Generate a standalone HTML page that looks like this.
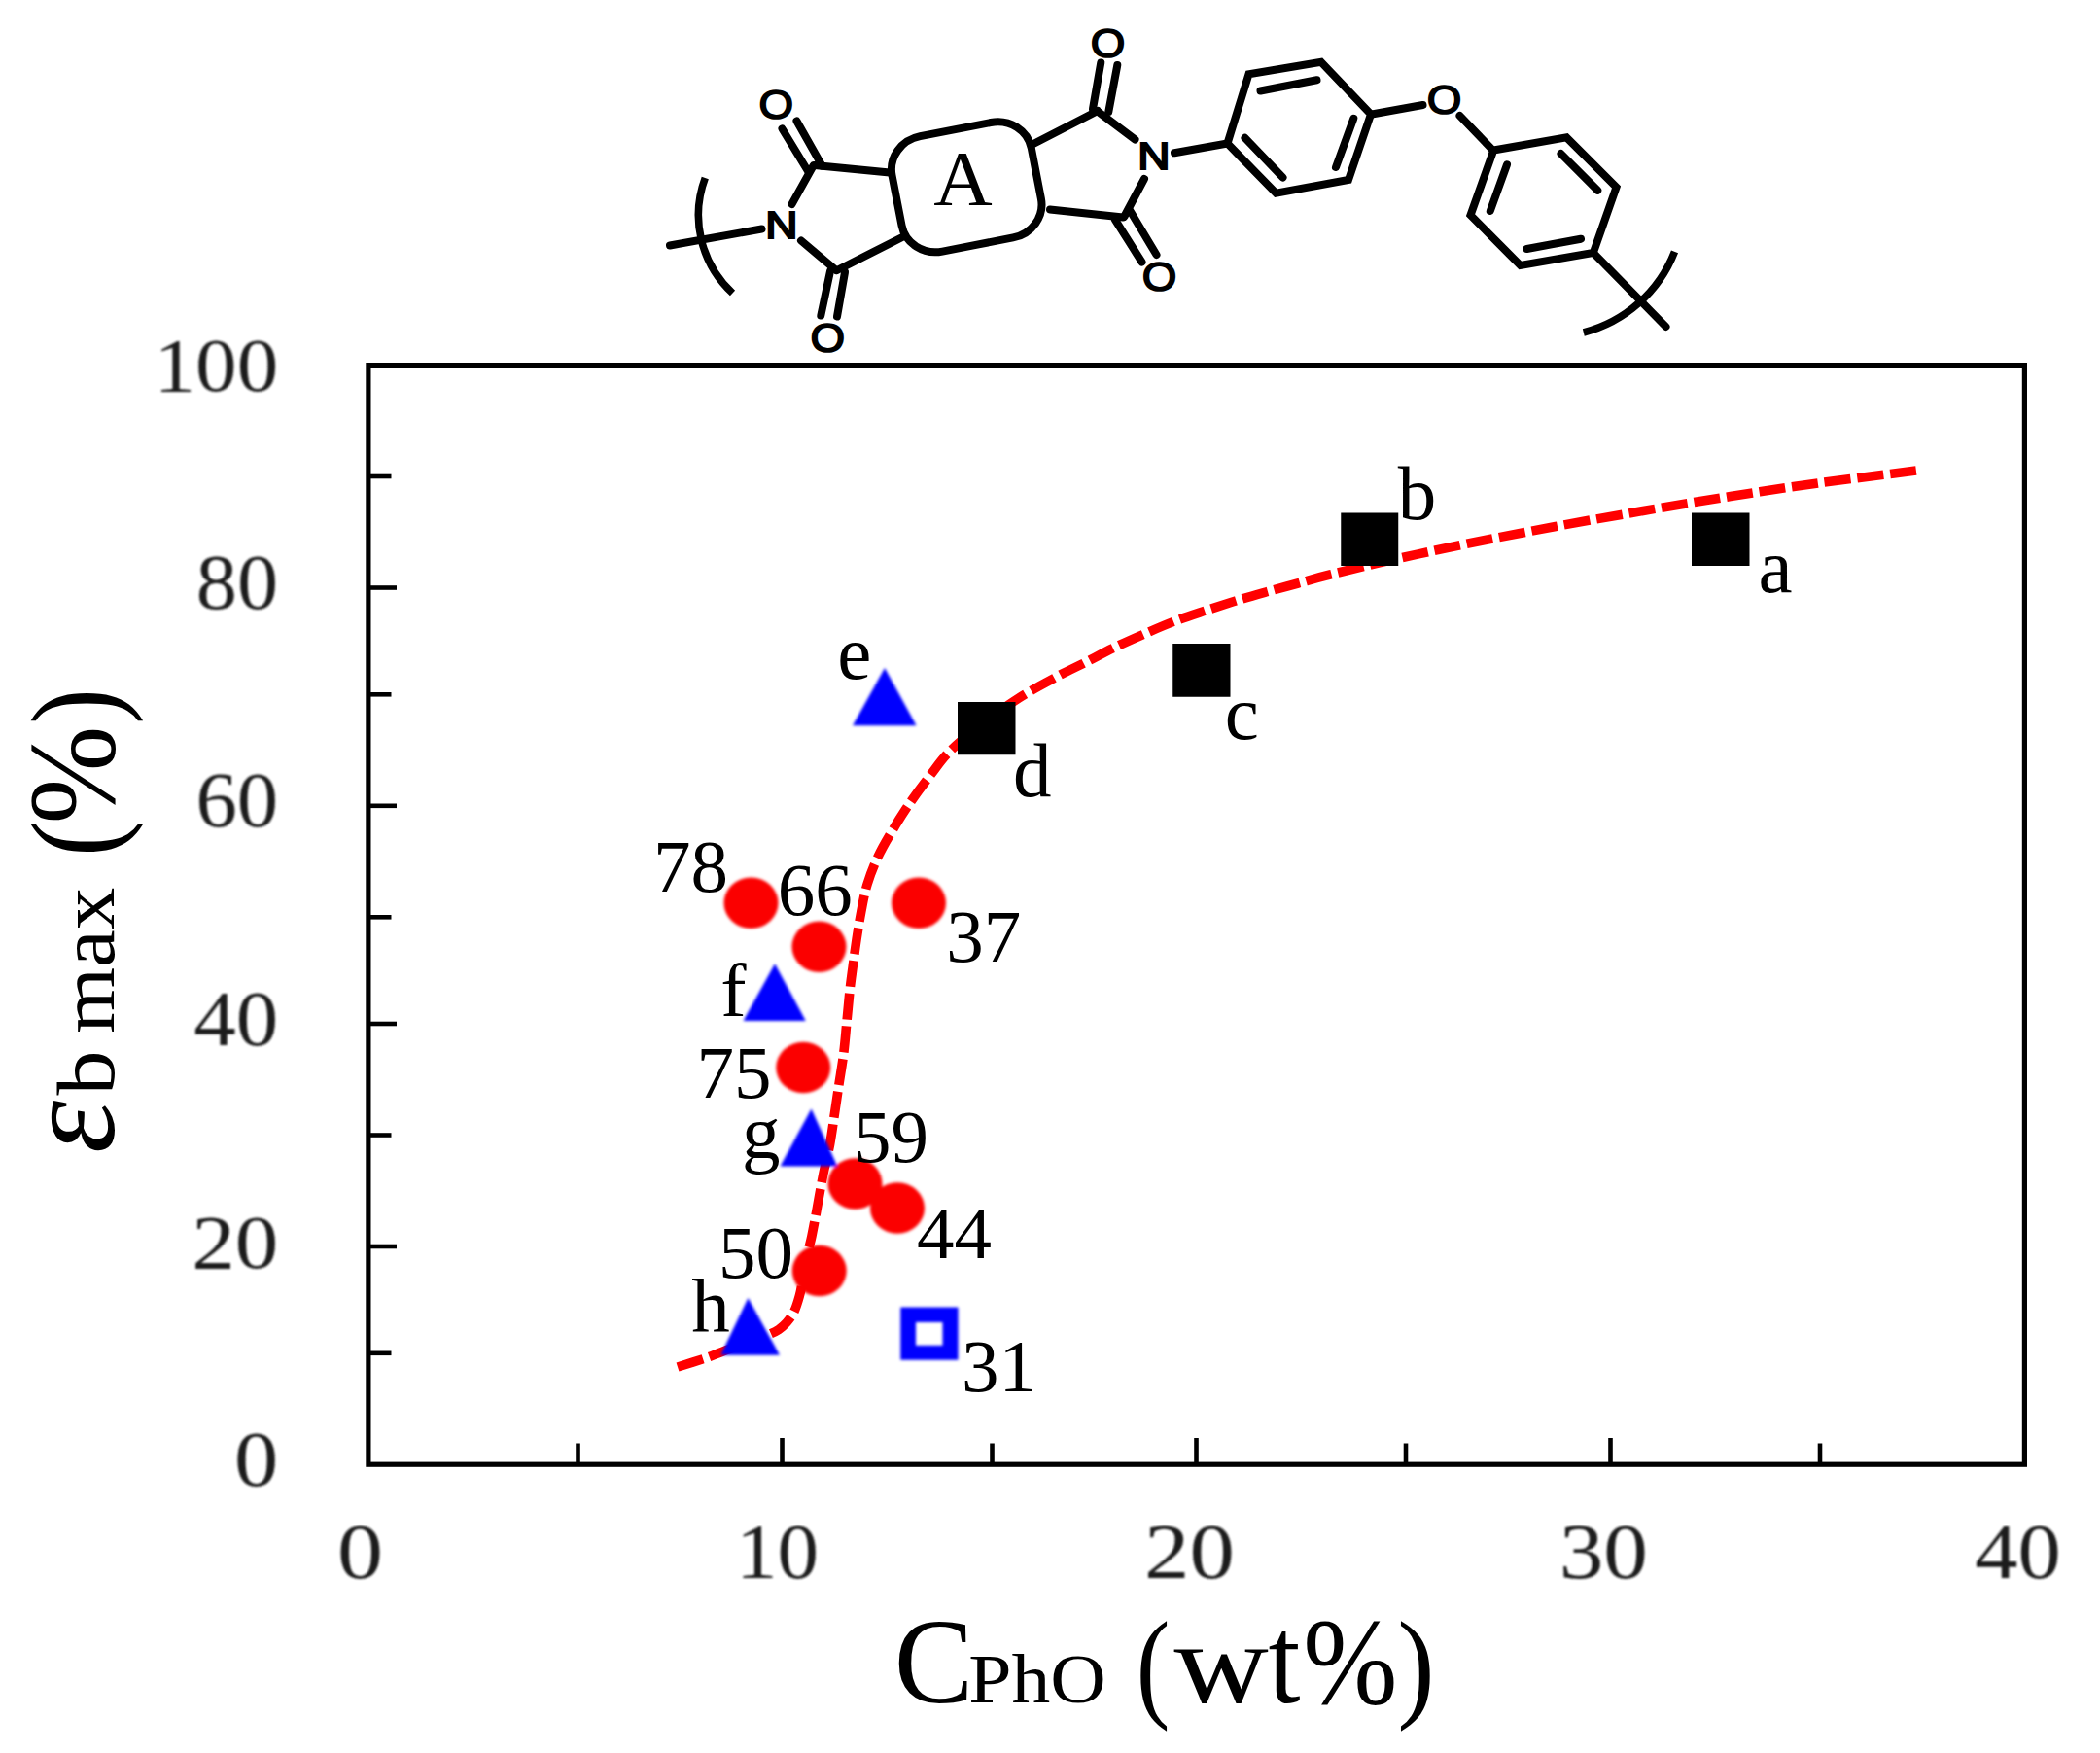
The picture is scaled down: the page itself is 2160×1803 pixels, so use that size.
<!DOCTYPE html>
<html><head><meta charset="utf-8"><title>Figure</title>
<style>html,body{margin:0;padding:0;background:#fff}svg{display:block}</style></head>
<body><svg width="2160" height="1803" viewBox="0 0 2160 1803">
<defs>
<filter id="b1" x="-10%" y="-10%" width="120%" height="120%"><feGaussianBlur stdDeviation="1.0"/></filter>
<filter id="b2" x="-10%" y="-10%" width="120%" height="120%"><feGaussianBlur stdDeviation="1.7"/></filter>
</defs>
<rect width="2160" height="1803" fill="#fff"/>
<g id="chem">
<line x1="689.0" y1="252.5" x2="783.5" y2="235.5" stroke="#000" stroke-width="8.0" stroke-linecap="round"/>
<path d="M725.3,183.0 A109.3,109.3 0 0 0 753.5,301.5" fill="none" stroke="#000" stroke-width="7.6"/>
<path d="M1722.5,258.8 A137.8,137.8 0 0 1 1628.8,342.0" fill="none" stroke="#000" stroke-width="7.6"/>
<line x1="814.5" y1="210.0" x2="836.5" y2="170.5" stroke="#000" stroke-width="8.0" stroke-linecap="round"/>
<line x1="838.0" y1="170.0" x2="915.0" y2="177.5" stroke="#000" stroke-width="8.0" stroke-linecap="round"/>
<line x1="845.5" y1="170.5" x2="819.5" y2="124.5" stroke="#000" stroke-width="8.0" stroke-linecap="round"/>
<line x1="831.0" y1="176.0" x2="804.5" y2="132.5" stroke="#000" stroke-width="8.0" stroke-linecap="round"/>
<line x1="824.0" y1="247.5" x2="860.0" y2="278.0" stroke="#000" stroke-width="8.0" stroke-linecap="round"/>
<line x1="861.0" y1="278.0" x2="929.0" y2="243.5" stroke="#000" stroke-width="8.0" stroke-linecap="round"/>
<line x1="854.0" y1="279.0" x2="844.3" y2="324.5" stroke="#000" stroke-width="8.0" stroke-linecap="round"/>
<line x1="869.0" y1="280.0" x2="861.0" y2="325.5" stroke="#000" stroke-width="8.0" stroke-linecap="round"/>
<line x1="1062.0" y1="148.5" x2="1129.0" y2="114.0" stroke="#000" stroke-width="8.0" stroke-linecap="round"/>
<line x1="1124.0" y1="112.0" x2="1132.3" y2="64.5" stroke="#000" stroke-width="8.0" stroke-linecap="round"/>
<line x1="1140.3" y1="115.0" x2="1149.3" y2="67.0" stroke="#000" stroke-width="8.0" stroke-linecap="round"/>
<line x1="1131.0" y1="116.0" x2="1167.5" y2="143.5" stroke="#000" stroke-width="8.0" stroke-linecap="round"/>
<line x1="1177.0" y1="184.0" x2="1156.5" y2="222.5" stroke="#000" stroke-width="8.0" stroke-linecap="round"/>
<line x1="1155.0" y1="223.5" x2="1080.0" y2="215.5" stroke="#000" stroke-width="8.0" stroke-linecap="round"/>
<line x1="1147.0" y1="226.0" x2="1174.5" y2="269.5" stroke="#000" stroke-width="8.0" stroke-linecap="round"/>
<line x1="1162.5" y1="217.0" x2="1189.5" y2="262.0" stroke="#000" stroke-width="8.0" stroke-linecap="round"/>
<line x1="1208.0" y1="157.3" x2="1262.5" y2="147.5" stroke="#000" stroke-width="8.0" stroke-linecap="round"/>
<polygon points="1262.5,147.5 1284.5,76.3 1358.8,63.8 1410.0,117.5 1387.0,185.0 1312.5,198.8" fill="none" stroke="#000" stroke-width="8.0" stroke-linejoin="miter"/>
<line x1="1296.5" y1="93.5" x2="1354.5" y2="82.3" stroke="#000" stroke-width="8.0" stroke-linecap="round"/>
<line x1="1392.3" y1="121.8" x2="1374.0" y2="172.0" stroke="#000" stroke-width="8.0" stroke-linecap="round"/>
<line x1="1280.5" y1="141.8" x2="1319.5" y2="182.5" stroke="#000" stroke-width="8.0" stroke-linecap="round"/>
<line x1="1411.0" y1="117.5" x2="1463.5" y2="108.0" stroke="#000" stroke-width="8.0" stroke-linecap="round"/>
<line x1="1501.5" y1="119.0" x2="1536.0" y2="155.0" stroke="#000" stroke-width="8.0" stroke-linecap="round"/>
<polygon points="1536.3,154.5 1611.3,141.3 1662.5,192.5 1638.8,260.0 1563.8,273.0 1512.5,221.3" fill="none" stroke="#000" stroke-width="8.0" stroke-linejoin="miter"/>
<line x1="1550.0" y1="169.3" x2="1532.8" y2="217.0" stroke="#000" stroke-width="8.0" stroke-linecap="round"/>
<line x1="1605.5" y1="158.0" x2="1643.3" y2="195.8" stroke="#000" stroke-width="8.0" stroke-linecap="round"/>
<line x1="1570.5" y1="256.0" x2="1626.0" y2="245.7" stroke="#000" stroke-width="8.0" stroke-linecap="round"/>
<line x1="1638.8" y1="260.0" x2="1713.5" y2="336.0" stroke="#000" stroke-width="8.0" stroke-linecap="round"/>
<rect x="921.2" y="132.0" width="146" height="120.6" rx="36" ry="34" transform="rotate(-11 994.2 192.3)" fill="#fff" stroke="#000" stroke-width="8.0"/>
<text transform="translate(780.50,121.64) scale(1.0900,1)" font-family="'Liberation Sans',sans-serif" font-size="42.00" font-style="normal" font-weight="normal" fill="#000" stroke="#000" stroke-width="1.7" stroke-linejoin="miter">O</text>
<text transform="translate(833.50,362.44) scale(1.0900,1)" font-family="'Liberation Sans',sans-serif" font-size="42.00" font-style="normal" font-weight="normal" fill="#000" stroke="#000" stroke-width="1.7" stroke-linejoin="miter">O</text>
<text transform="translate(1121.70,58.94) scale(1.0900,1)" font-family="'Liberation Sans',sans-serif" font-size="42.00" font-style="normal" font-weight="normal" fill="#000" stroke="#000" stroke-width="1.7" stroke-linejoin="miter">O</text>
<text transform="translate(1174.70,298.94) scale(1.0900,1)" font-family="'Liberation Sans',sans-serif" font-size="42.00" font-style="normal" font-weight="normal" fill="#000" stroke="#000" stroke-width="1.7" stroke-linejoin="miter">O</text>
<text transform="translate(1467.70,117.44) scale(1.0900,1)" font-family="'Liberation Sans',sans-serif" font-size="42.00" font-style="normal" font-weight="normal" fill="#000" stroke="#000" stroke-width="1.7" stroke-linejoin="miter">O</text>
<text transform="translate(787.36,245.25) scale(1.1600,1)" font-family="'Liberation Sans',sans-serif" font-size="39.70" font-style="normal" font-weight="normal" fill="#000" stroke="#000" stroke-width="2.1" stroke-linejoin="miter">N</text>
<text transform="translate(1170.36,173.65) scale(1.1600,1)" font-family="'Liberation Sans',sans-serif" font-size="39.70" font-style="normal" font-weight="normal" fill="#000" stroke="#000" stroke-width="2.1" stroke-linejoin="miter">N</text>
<text transform="translate(960.16,210.80) scale(1.0422,1)" font-family="'Liberation Serif',serif" font-size="80.30" font-style="normal" font-weight="normal" fill="#000" >A</text>
</g>
<g id="axes">
<rect x="378.9" y="375.6" width="1703.5" height="1130.6" fill="none" stroke="#000" stroke-width="5.2"/>
<line x1="380" y1="490" x2="402.5" y2="490" stroke="#000" stroke-width="4.6"/>
<line x1="380" y1="604.5" x2="408" y2="604.5" stroke="#000" stroke-width="4.6"/>
<line x1="380" y1="714.3" x2="402.5" y2="714.3" stroke="#000" stroke-width="4.6"/>
<line x1="380" y1="828.8" x2="408" y2="828.8" stroke="#000" stroke-width="4.6"/>
<line x1="380" y1="943.3" x2="402.5" y2="943.3" stroke="#000" stroke-width="4.6"/>
<line x1="380" y1="1053" x2="408" y2="1053" stroke="#000" stroke-width="4.6"/>
<line x1="380" y1="1167.5" x2="402.5" y2="1167.5" stroke="#000" stroke-width="4.6"/>
<line x1="380" y1="1282" x2="408" y2="1282" stroke="#000" stroke-width="4.6"/>
<line x1="380" y1="1391.8" x2="402.5" y2="1391.8" stroke="#000" stroke-width="4.6"/>
<line x1="594.5" y1="1505" x2="594.5" y2="1484.5" stroke="#000" stroke-width="4.6"/>
<line x1="804.5" y1="1505" x2="804.5" y2="1479" stroke="#000" stroke-width="4.6"/>
<line x1="1020.5" y1="1505" x2="1020.5" y2="1484.5" stroke="#000" stroke-width="4.6"/>
<line x1="1230.5" y1="1505" x2="1230.5" y2="1479" stroke="#000" stroke-width="4.6"/>
<line x1="1446" y1="1505" x2="1446" y2="1484.5" stroke="#000" stroke-width="4.6"/>
<line x1="1656.5" y1="1505" x2="1656.5" y2="1479" stroke="#000" stroke-width="4.6"/>
<line x1="1872" y1="1505" x2="1872" y2="1484.5" stroke="#000" stroke-width="4.6"/>
</g>
<g id="ticks" filter="url(#b1)">
<text transform="translate(158.55,401.50) scale(1.0778,1)" font-family="'Liberation Serif',serif" font-size="78.95" font-style="normal" font-weight="normal" fill="#1a1a1a" >100</text>
<text transform="translate(201.84,626.00) scale(1.0580,1)" font-family="'Liberation Serif',serif" font-size="79.70" font-style="normal" font-weight="normal" fill="#1a1a1a" >80</text>
<text transform="translate(201.40,850.00) scale(1.0638,1)" font-family="'Liberation Serif',serif" font-size="79.70" font-style="normal" font-weight="normal" fill="#1a1a1a" >60</text>
<text transform="translate(199.26,1074.50) scale(1.0916,1)" font-family="'Liberation Serif',serif" font-size="79.70" font-style="normal" font-weight="normal" fill="#1a1a1a" >40</text>
<text transform="translate(197.21,1303.50) scale(1.1290,1)" font-family="'Liberation Serif',serif" font-size="78.95" font-style="normal" font-weight="normal" fill="#1a1a1a" >20</text>
<text transform="translate(241.10,1528.00) scale(1.1366,1)" font-family="'Liberation Serif',serif" font-size="79.70" font-style="normal" font-weight="normal" fill="#1a1a1a" >0</text>
<text transform="translate(346.97,1622.50) scale(1.1809,1)" font-family="'Liberation Serif',serif" font-size="79.70" font-style="normal" font-weight="normal" fill="#1a1a1a" >0</text>
<text transform="translate(757.05,1622.50) scale(1.0683,1)" font-family="'Liberation Serif',serif" font-size="79.70" font-style="normal" font-weight="normal" fill="#1a1a1a" >10</text>
<text transform="translate(1177.05,1622.50) scale(1.1661,1)" font-family="'Liberation Serif',serif" font-size="79.70" font-style="normal" font-weight="normal" fill="#1a1a1a" >20</text>
<text transform="translate(1603.67,1622.50) scale(1.1450,1)" font-family="'Liberation Serif',serif" font-size="79.70" font-style="normal" font-weight="normal" fill="#1a1a1a" >30</text>
<text transform="translate(2031.23,1622.50) scale(1.1116,1)" font-family="'Liberation Serif',serif" font-size="79.70" font-style="normal" font-weight="normal" fill="#1a1a1a" >40</text>
</g>
<g id="titles" font-family="'Liberation Serif',serif" fill="#000">
<text><tspan x="919.71" y="1751.00" font-size="124.53" font-style="normal" textLength="81.55" lengthAdjust="spacingAndGlyphs">C</tspan><tspan x="996.31" y="1751.00" font-size="71.22" font-style="normal" textLength="141.44" lengthAdjust="spacingAndGlyphs">PhO</tspan> <tspan x="1168.78" y="1753.80" font-size="125.50" font-style="normal" textLength="34.66" lengthAdjust="spacingAndGlyphs">(</tspan><tspan x="1207.40" y="1751.00" font-size="118.04" font-style="normal" textLength="97.33" lengthAdjust="spacingAndGlyphs">w</tspan><tspan x="1304.41" y="1751.00" font-size="129.20" font-style="normal" textLength="33.02" lengthAdjust="spacingAndGlyphs">t</tspan><tspan x="1340.21" y="1751.50" font-size="126.32" font-style="normal" textLength="97.24" lengthAdjust="spacingAndGlyphs">%</tspan><tspan x="1437.24" y="1753.80" font-size="125.50" font-style="normal" textLength="38.54" lengthAdjust="spacingAndGlyphs">)</tspan></text>
<text transform="translate(117,0) rotate(-90)"><tspan x="-1186.36" y="0.00" font-size="135.11" font-style="italic" textLength="54.38" lengthAdjust="spacingAndGlyphs">ε</tspan><tspan x="-1126.60" y="0.00" font-size="85.32" font-style="normal" textLength="46.05" lengthAdjust="spacingAndGlyphs">b</tspan> <tspan x="-1062.74" y="0.00" font-size="81.00" font-style="normal" textLength="149.96" lengthAdjust="spacingAndGlyphs">max</tspan> <tspan x="-880.75" y="3.00" font-size="127.50" font-style="normal" textLength="36.47" lengthAdjust="spacingAndGlyphs">(</tspan><tspan x="-847.44" y="0.00" font-size="127.07" font-style="normal" textLength="100.83" lengthAdjust="spacingAndGlyphs">%</tspan><tspan x="-744.76" y="3.00" font-size="127.50" font-style="normal" textLength="36.47" lengthAdjust="spacingAndGlyphs">)</tspan></text>
</g>
<path d="M697.0,1406.0 C702.0,1404.4 719.3,1399.1 727.0,1396.5 C734.7,1393.9 736.2,1392.7 743.0,1390.2 C749.8,1387.7 760.2,1384.4 768.0,1381.5 C775.8,1378.6 784.5,1375.2 790.0,1372.9 C795.5,1370.6 797.8,1369.5 801.0,1367.4 C804.2,1365.3 806.6,1363.2 809.2,1360.2 C811.8,1357.2 814.4,1354.0 816.6,1349.5 C818.8,1345.0 820.7,1338.8 822.3,1333.0 C823.9,1327.2 824.6,1322.2 826.0,1315.0 C827.4,1307.8 829.0,1297.3 830.5,1290.0 C832.0,1282.7 833.4,1278.8 835.0,1271.0 C836.6,1263.2 838.4,1253.4 840.3,1243.0 C842.2,1232.6 844.4,1219.6 846.6,1208.6 C848.8,1197.6 851.6,1187.5 853.6,1177.0 C855.6,1166.5 856.8,1156.2 858.4,1145.7 C860.0,1135.2 861.5,1124.8 863.1,1114.3 C864.7,1103.8 866.5,1093.5 867.8,1083.0 C869.1,1072.5 869.9,1061.7 870.9,1051.4 C871.9,1041.1 872.8,1030.6 873.8,1021.0 C874.8,1011.4 876.0,1003.2 877.2,994.0 C878.4,984.8 879.7,975.2 881.1,965.8 C882.5,956.4 884.0,947.0 885.8,937.6 C887.6,928.2 889.2,918.7 892.1,909.3 C895.0,899.9 898.7,890.4 903.1,881.0 C907.5,871.6 913.2,862.1 918.8,852.7 C924.4,843.3 930.6,833.6 936.9,824.4 C943.2,815.2 949.9,806.3 956.6,797.7 C963.3,789.1 968.1,781.4 977.0,772.6 C985.9,763.8 998.2,754.1 1010.0,745.0 C1021.8,735.9 1035.2,726.2 1048.0,718.0 C1060.8,709.8 1075.5,702.2 1087.0,696.0 C1098.5,689.8 1107.2,686.0 1117.0,681.0 C1126.8,676.0 1136.0,670.8 1146.0,666.0 C1156.0,661.2 1166.7,656.5 1177.0,652.0 C1187.3,647.5 1197.5,643.0 1208.0,639.0 C1218.5,635.0 1229.5,631.5 1240.0,628.0 C1250.5,624.5 1260.7,621.2 1271.0,618.0 C1281.3,614.8 1291.3,612.0 1302.0,609.0 C1312.7,606.0 1324.0,603.0 1335.0,600.0 C1346.0,597.0 1350.8,595.2 1368.0,591.0 C1385.2,586.8 1414.3,579.8 1438.0,574.5 C1461.7,569.2 1483.0,564.5 1510.0,559.0 C1537.0,553.5 1570.0,547.1 1600.0,541.5 C1630.0,535.9 1660.0,530.7 1690.0,525.5 C1720.0,520.3 1750.0,515.2 1780.0,510.5 C1810.0,505.8 1838.2,501.4 1870.0,497.0 C1901.8,492.6 1954.2,486.2 1971.0,484.0" fill="none" stroke="#ff0000" stroke-width="9.6" stroke-dasharray="27.05 6.895"/>
<g id="markers" filter="url(#b2)">
<ellipse cx="772.5" cy="928.75" rx="28" ry="26.3" fill="#fb0000"/>
<ellipse cx="842.5" cy="973.75" rx="28" ry="26.3" fill="#fb0000"/>
<ellipse cx="945" cy="928.75" rx="28" ry="26.3" fill="#fb0000"/>
<ellipse cx="826.25" cy="1098" rx="28" ry="26.3" fill="#fb0000"/>
<ellipse cx="879.5" cy="1217.5" rx="28" ry="26.3" fill="#fb0000"/>
<ellipse cx="923" cy="1242.5" rx="28" ry="26.3" fill="#fb0000"/>
<ellipse cx="842.75" cy="1307" rx="28" ry="26.3" fill="#fb0000"/>
<polygon points="910,687 942.5,746.25 877,746.25" fill="#0000fe"/>
<polygon points="797,991.25 828.75,1050 764.5,1050" fill="#0000fe"/>
<polygon points="834.5,1140.5 861.25,1199.5 802.5,1199.5" fill="#0000fe"/>
<polygon points="769.5,1335 802,1393.75 741.25,1393.75" fill="#0000fe"/>
<path d="M926.25,1344.5H985.5V1398.75H926.25Z M942,1360V1383.75H969.5V1360Z" fill="#0000fe" fill-rule="evenodd"/>
</g>
<rect x="1740" y="527.5" width="59.5" height="54.5" fill="#000"/>
<rect x="1379.25" y="527.5" width="59.0" height="54.5" fill="#000"/>
<rect x="1206.25" y="662" width="59.25" height="54.75" fill="#000"/>
<rect x="985" y="722" width="59.5" height="54.25" fill="#000"/>
<g id="labels">
<text x="861.35" y="697.80" font-family="'Liberation Serif',serif" font-size="79" fill="#000">e</text>
<text x="1042.11" y="819.30" font-family="'Liberation Serif',serif" font-size="79" fill="#000">d</text>
<text x="672.07" y="916.50" font-family="'Liberation Serif',serif" font-size="77" fill="#000">78</text>
<text x="799.77" y="941.30" font-family="'Liberation Serif',serif" font-size="77" fill="#000">66</text>
<text x="973.23" y="989.00" font-family="'Liberation Serif',serif" font-size="77" fill="#000">37</text>
<text x="741.31" y="1044.50" font-family="'Liberation Serif',serif" font-size="79" fill="#000">f</text>
<text x="716.41" y="1129.00" font-family="'Liberation Serif',serif" font-size="77" fill="#000">75</text>
<text x="763.11" y="1191.30" font-family="'Liberation Serif',serif" font-size="79" fill="#000">g</text>
<text x="878.08" y="1194.60" font-family="'Liberation Serif',serif" font-size="77" fill="#000">59</text>
<text x="942.93" y="1294.00" font-family="'Liberation Serif',serif" font-size="77" fill="#000">44</text>
<text x="739.11" y="1313.50" font-family="'Liberation Serif',serif" font-size="77" fill="#000">50</text>
<text x="711.35" y="1369.80" font-family="'Liberation Serif',serif" font-size="79" fill="#000">h</text>
<text x="989.11" y="1431.00" font-family="'Liberation Serif',serif" font-size="77" fill="#000">31</text>
<text x="1437.73" y="534.30" font-family="'Liberation Serif',serif" font-size="79" fill="#000">b</text>
<text x="1259.72" y="759.80" font-family="'Liberation Serif',serif" font-size="79" fill="#000">c</text>
<text x="1808.51" y="609.30" font-family="'Liberation Serif',serif" font-size="79" fill="#000">a</text>
</g>
</svg></body></html>
